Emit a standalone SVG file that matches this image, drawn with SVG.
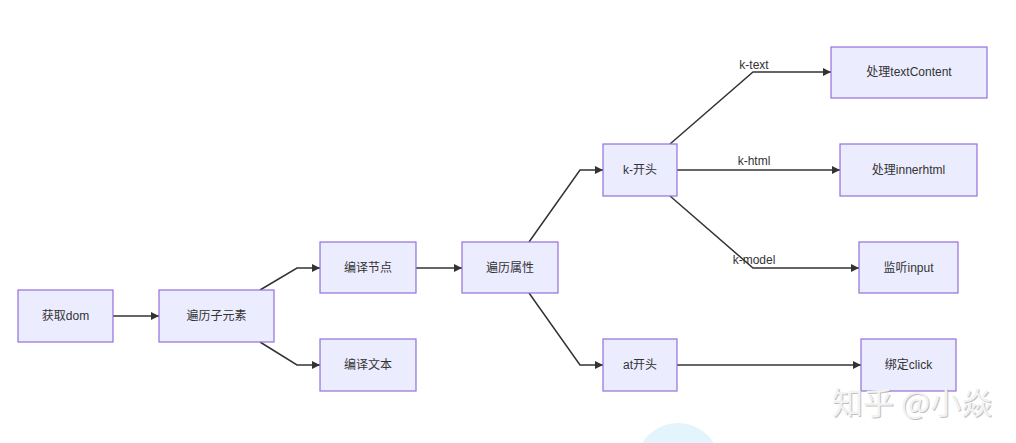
<svg xmlns="http://www.w3.org/2000/svg" width="1016" height="443" viewBox="0 0 1016 443">
<style>
.node rect{fill:#ECECFF;stroke:#9370DB;stroke-width:1.2}
.node text{font-family:"Liberation Sans","Noto Sans CJK SC",sans-serif;font-size:12px;fill:#333;text-anchor:middle;dominant-baseline:central}
.edge{fill:none;stroke:#333;stroke-width:1.5;marker-end:url(#arr)}
.lbl{font-family:"Liberation Sans","Noto Sans CJK SC",sans-serif;font-size:12px;fill:#333;text-anchor:middle}
.wm{font-family:"Noto Sans CJK SC",sans-serif;font-size:31px}
</style>
<defs>
<marker id="arr" viewBox="0 0 10 10" refX="10" refY="5" markerWidth="8" markerHeight="8" markerUnits="userSpaceOnUse" orient="auto">
<path d="M0,0 L10,5 L0,10 z" fill="#333"/>
</marker>
</defs>
<rect width="1016" height="443" fill="#fff"/>
<circle cx="678" cy="465" r="42" fill="#E3F4FC"/>
<g id="connectors">
<path class="edge" d="M113,316 L159,316"/>
<path class="edge" d="M260,290 L297,268 L320,268"/>
<path class="edge" d="M260,342 L297,365 L320,365"/>
<path class="edge" d="M416,268 L462,268"/>
<path class="edge" d="M529,242 L580,170 L603,170"/>
<path class="edge" d="M529,293 L580,365 L603,365"/>
<path class="edge" d="M670,144 L753,72 L831,72"/>
<path class="edge" d="M677,170 L840,170"/>
<path class="edge" d="M670,196 L753,268 L859,268"/>
<path class="edge" d="M677,365 L861,365"/>
<text class="lbl" x="754" y="69">k-text</text>
<text class="lbl" x="754" y="165">k-html</text>
<text class="lbl" x="754" y="264">k-model</text>
</g>
<g id="n1" class="node"><rect x="18" y="290" width="95" height="52"/><text x="65.5" y="316">获取dom</text></g>
<g id="n2" class="node"><rect x="159" y="290" width="115" height="52"/><text x="216.5" y="316">遍历子元素</text></g>
<g id="n3" class="node"><rect x="320" y="242" width="96" height="51"/><text x="368" y="268">编译节点</text></g>
<g id="n4" class="node"><rect x="320" y="339" width="96" height="52"/><text x="368" y="365">编译文本</text></g>
<g id="n5" class="node"><rect x="462" y="242" width="96" height="51"/><text x="510" y="268">遍历属性</text></g>
<g id="n6" class="node"><rect x="603" y="144" width="74" height="52"/><text x="640" y="170">k-开头</text></g>
<g id="n7" class="node"><rect x="603" y="339" width="74" height="52"/><text x="640" y="365">at开头</text></g>
<g id="n8" class="node"><rect x="831" y="47" width="156" height="51"/><text x="909" y="72">处理textContent</text></g>
<g id="n9" class="node"><rect x="840" y="144" width="137" height="52"/><text x="908.5" y="170">处理innerhtml</text></g>
<g id="n10" class="node"><rect x="859" y="242" width="99" height="51"/><text x="908.5" y="268">监听input</text></g>
<g id="n11" class="node"><rect x="861" y="339" width="95" height="52"/><text x="908.5" y="365">绑定click</text></g>
<g id="watermark">
<text class="wm" x="833" y="415" fill="#999" opacity="0.6">知乎 @小焱</text>
<text class="wm" x="832" y="414" fill="#f2f2f2">知乎 @小焱</text>
</g>
</svg>
